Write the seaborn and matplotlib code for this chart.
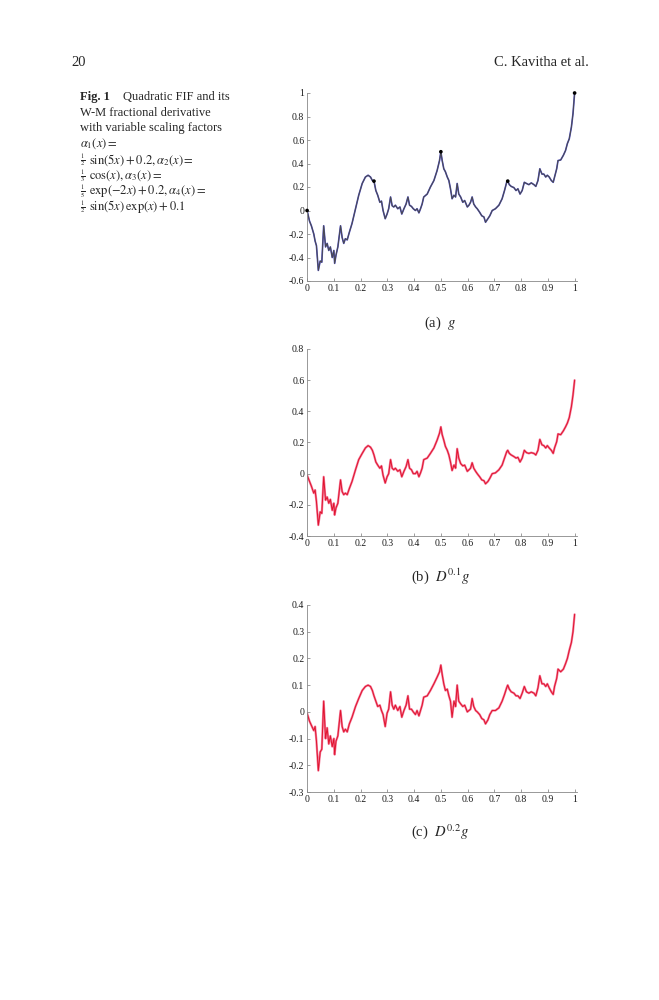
import numpy as np
import pandas as pd
import matplotlib
matplotlib.use("Agg")
import matplotlib.pyplot as plt
import seaborn as sns

# shared x positions
x_vals = [0.0, 0.009, 0.016, 0.025, 0.03, 0.035, 0.042, 0.049, 0.055, 0.062,
          0.069, 0.075, 0.081, 0.087, 0.094, 0.10, 0.103, 0.108, 0.115, 0.125,
          0.131, 0.137, 0.143, 0.15, 0.158, 0.168, 0.181, 0.193, 0.206, 0.218,
          0.228, 0.237, 0.244, 0.25, 0.257, 0.264, 0.272, 0.278, 0.284, 0.292,
          0.299, 0.305, 0.312, 0.318, 0.324, 0.33, 0.339, 0.347, 0.354, 0.362,
          0.37, 0.377, 0.383, 0.39, 0.397, 0.405, 0.411, 0.418, 0.424, 0.43,
          0.436, 0.449, 0.461, 0.474, 0.486, 0.495, 0.5, 0.505, 0.511, 0.517,
          0.524, 0.53, 0.536, 0.542, 0.549, 0.555, 0.561, 0.567, 0.574, 0.582,
          0.589, 0.599, 0.605, 0.611, 0.617, 0.623, 0.63, 0.636, 0.645, 0.653,
          0.661, 0.667, 0.676, 0.683, 0.692, 0.704, 0.717, 0.729, 0.738, 0.746,
          0.75, 0.756, 0.763, 0.773, 0.781, 0.788, 0.796, 0.804, 0.812, 0.82,
          0.829, 0.838, 0.848, 0.855, 0.863, 0.87, 0.878, 0.885, 0.892, 0.898,
          0.905, 0.913, 0.92, 0.925, 0.933, 0.938, 0.948, 0.958, 0.966, 0.973,
          0.98, 0.988, 0.994, 1.0]

# (a) g
g_vals = [0.0, -0.09, -0.13, -0.20, -0.26, -0.30, -0.51, -0.43, -0.44, -0.13,
          -0.31, -0.28, -0.34, -0.31, -0.40, -0.34, -0.45, -0.38, -0.31, -0.13,
          -0.23, -0.28, -0.24, -0.25, -0.185, -0.11, 0.015, 0.13, 0.23, 0.285,
          0.30, 0.285, 0.255, 0.25, 0.17, 0.13, 0.07, 0.08, 0.0, -0.07,
          -0.03, 0.015, 0.115, 0.04, 0.03, 0.045, 0.015, 0.03, -0.03, 0.015,
          0.055, 0.115, 0.045, 0.035, 0.015, 0.0, 0.015, -0.02, 0.015, 0.055,
          0.115, 0.14, 0.20, 0.255, 0.34, 0.425, 0.50, 0.425, 0.355, 0.33,
          0.285, 0.255, 0.185, 0.10, 0.13, 0.115, 0.23, 0.14, 0.115, 0.07,
          0.085, 0.03, 0.045, 0.07, 0.115, 0.055, 0.03, 0.015, -0.015, -0.045,
          -0.055, -0.10, -0.07, -0.045, 0.0, 0.015, 0.045, 0.10, 0.17, 0.24,
          0.25, 0.22, 0.205, 0.195, 0.17, 0.185, 0.14, 0.17, 0.24, 0.23,
          0.22, 0.235, 0.22, 0.205, 0.255, 0.355, 0.31, 0.31, 0.285, 0.30,
          0.285, 0.255, 0.24, 0.285, 0.355, 0.425, 0.43, 0.47, 0.51, 0.57,
          0.61, 0.71, 0.825, 1.0]

# (b) D^0.1 g
d1_vals = [-0.01, -0.05, -0.08, -0.125, -0.105, -0.18, -0.33, -0.245, -0.255, -0.02,
           -0.17, -0.15, -0.19, -0.165, -0.235, -0.19, -0.265, -0.22, -0.19, -0.04,
           -0.115, -0.135, -0.125, -0.135, -0.095, -0.05, 0.025, 0.09, 0.13, 0.165,
           0.18, 0.17, 0.15, 0.12, 0.075, 0.055, 0.035, 0.05, -0.01, -0.06,
           -0.02, 0.0, 0.09, 0.035, 0.025, 0.035, 0.015, 0.025, -0.02, 0.015,
           0.045, 0.09, 0.035, 0.025, 0.0, 0.0, 0.015, -0.02, 0.005, 0.035,
           0.09, 0.10, 0.13, 0.165, 0.215, 0.26, 0.30, 0.25, 0.215, 0.175,
           0.15, 0.12, 0.075, 0.02, 0.055, 0.035, 0.16, 0.10, 0.065, 0.05,
           0.055, 0.015, 0.025, 0.035, 0.07, 0.035, 0.015, 0.0, -0.02, -0.04,
           -0.045, -0.065, -0.05, -0.03, 0.0, 0.005, 0.025, 0.055, 0.10, 0.14,
           0.15, 0.13, 0.12, 0.11, 0.10, 0.105, 0.075, 0.10, 0.15, 0.135,
           0.13, 0.135, 0.13, 0.12, 0.15, 0.22, 0.185, 0.18, 0.165, 0.18,
           0.165, 0.15, 0.13, 0.165, 0.205, 0.255, 0.25, 0.275, 0.30, 0.325,
           0.36, 0.43, 0.505, 0.60]

# (c) D^0.2 g
d2_vals = [-0.005, -0.035, -0.05, -0.07, -0.055, -0.11, -0.22, -0.15, -0.14, 0.04,
           -0.10, -0.06, -0.12, -0.09, -0.13, -0.10, -0.16, -0.11, -0.09, 0.005,
           -0.055, -0.075, -0.065, -0.075, -0.045, -0.02, 0.02, 0.05, 0.08, 0.095,
           0.10, 0.095, 0.08, 0.06, 0.04, 0.02, 0.025, 0.005, -0.01, -0.055,
           -0.005, 0.01, 0.075, 0.025, 0.01, 0.025, 0.005, 0.02, -0.02, 0.005,
           0.025, 0.06, 0.01, 0.01, 0.0, -0.01, 0.005, -0.015, 0.005, 0.025,
           0.055, 0.06, 0.08, 0.105, 0.13, 0.15, 0.175, 0.14, 0.105, 0.08,
           0.085, 0.06, 0.04, -0.02, 0.04, 0.02, 0.10, 0.04, 0.03, 0.02,
           0.025, 0.0, 0.005, 0.01, 0.05, 0.02, 0.005, 0.0, -0.01, -0.025,
           -0.03, -0.045, -0.03, -0.01, 0.005, 0.005, 0.015, 0.04, 0.065, 0.09,
           0.10, 0.085, 0.075, 0.07, 0.06, 0.06, 0.05, 0.07, 0.095, 0.075,
           0.07, 0.075, 0.07, 0.06, 0.09, 0.135, 0.105, 0.105, 0.095, 0.105,
           0.09, 0.075, 0.065, 0.095, 0.125, 0.16, 0.15, 0.16, 0.18, 0.20,
           0.23, 0.26, 0.30, 0.365]

# interpolation nodes marked on (a)
node_x = [0.0, 0.25, 0.5, 0.75, 1.0]
node_y = [0.0, 0.25, 0.5, 0.25, 1.0]

x_ticks = [0, 0.1, 0.2, 0.3, 0.4, 0.5, 0.6, 0.7, 0.8, 0.9, 1]

sns.set_style("ticks")
plt.rcParams['font.family'] = ['Liberation Serif', 'DejaVu Serif']
plt.rcParams['mathtext.fontset'] = 'stix'

fig = plt.figure(figsize=(6.59, 10), dpi=100)


def style_axes(ax, ylim, yticks):
    ax.set_xlim(0, 1.01)
    ax.set_ylim(*ylim)
    ax.set_xticks(x_ticks)
    ax.set_xticklabels(['%g' % t for t in x_ticks])
    ax.set_yticks(yticks)
    ax.set_yticklabels(['%g' % round(t, 2) for t in yticks])
    ax.tick_params(direction='in', length=2, width=0.5, color='#777777',
                   labelsize=7, labelcolor='#1a1a1a', pad=2)
    for s in ['top', 'right']:
        ax.spines[s].set_visible(False)
    for s in ['left', 'bottom']:
        ax.spines[s].set_linewidth(0.6)
        ax.spines[s].set_color('#888888')
    ax.set_xlabel('')
    ax.set_ylabel('')


df = pd.DataFrame({'x': x_vals, 'g': g_vals, 'd1': d1_vals, 'd2': d2_vals})

# (a)
ax1 = fig.add_axes([0.466, 0.719, 0.41, 0.188])
sns.lineplot(data=df, x='x', y='g', ax=ax1, sort=False, estimator=None,
             color='#5050c8', linewidth=1.2)
sns.lineplot(data=df, x='x', y='g', ax=ax1, sort=False, estimator=None,
             color='#4a4a4a', linewidth=0.7)
sns.scatterplot(x=node_x, y=node_y, ax=ax1, color='black', s=7,
                edgecolor='none', zorder=5, clip_on=False)
style_axes(ax1, (-0.6, 1.0), [-0.6, -0.4, -0.2, 0, 0.2, 0.4, 0.6, 0.8, 1])

# (b)
ax2 = fig.add_axes([0.466, 0.464, 0.41, 0.187])
sns.lineplot(data=df, x='x', y='d1', ax=ax2, sort=False, estimator=None,
             color='#f47a9a', linewidth=1.6)
sns.lineplot(data=df, x='x', y='d1', ax=ax2, sort=False, estimator=None,
             color='#e0142e', linewidth=0.7)
style_axes(ax2, (-0.4, 0.8), [-0.4, -0.2, 0, 0.2, 0.4, 0.6, 0.8])

# (c)
ax3 = fig.add_axes([0.466, 0.208, 0.41, 0.187])
sns.lineplot(data=df, x='x', y='d2', ax=ax3, sort=False, estimator=None,
             color='#f47a9a', linewidth=1.6)
sns.lineplot(data=df, x='x', y='d2', ax=ax3, sort=False, estimator=None,
             color='#e0142e', linewidth=0.7)
style_axes(ax3, (-0.3, 0.4), [-0.3, -0.2, -0.1, 0, 0.1, 0.2, 0.3, 0.4])

# sub captions
fig.text(0.668, 0.677, r'(a)  $g$', ha='center', va='center', fontsize=10.5)
fig.text(0.668, 0.424, r'(b)  $D^{0.1}g$', ha='center', va='center', fontsize=10.5)
fig.text(0.668, 0.168, r'(c)  $D^{0.2}g$', ha='center', va='center', fontsize=10.5)

# page header
fig.text(0.109, 0.938, '20', ha='left', va='center', fontsize=10.5)
fig.text(0.893, 0.938, 'C. Kavitha et al.', ha='right', va='center', fontsize=10.5)

# figure caption
cap_lines = [
    (None, None),
    (None, 'W-M fractional derivative'),
    (None, 'with variable scaling factors'),
    (None, r'$\alpha_1(x) =$'),
    (r'$\frac{1}{2}$', r'$\sin(5x) + 0.2, \alpha_2(x) =$'),
    (r'$\frac{1}{3}$', r'$\cos(x), \alpha_3(x) =$'),
    (r'$\frac{1}{5}$', r'$\exp(-2x) + 0.2, \alpha_4(x) =$'),
    (r'$\frac{1}{2}$', r'$\sin(5x)\,\exp(x) + 0.1$'),
]
y0 = 0.903
step = 0.0157
fig.text(0.121, y0, 'Fig. 1', ha='left', va='center', fontsize=9, weight='bold')
fig.text(0.186, y0, 'Quadratic FIF and its', ha='left', va='center', fontsize=9)
for i, (frac, line) in enumerate(cap_lines):
    if line is None:
        continue
    yy = y0 - i * step
    if frac is None:
        fig.text(0.121, yy, line, ha='left', va='center', fontsize=9)
    else:
        fig.text(0.1215, yy - 0.0005, frac, ha='left', va='center', fontsize=6.5)
        fig.text(0.135, yy, line, ha='left', va='center', fontsize=9)

fig.savefig('out.png', dpi=100)
